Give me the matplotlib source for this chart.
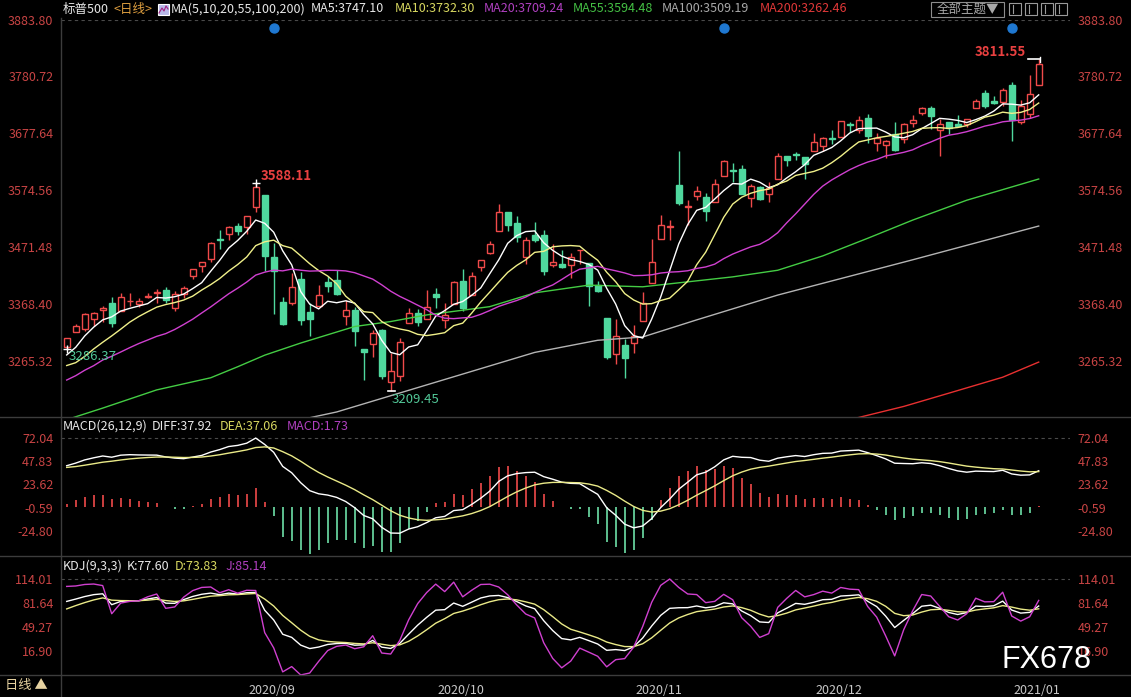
import matplotlib
matplotlib.use('Agg')
import matplotlib.pyplot as plt
from matplotlib.lines import Line2D
from matplotlib.patches import Rectangle
import numpy as np
import pandas as pd

plt.rcParams['font.family'] = ['Noto Sans CJK SC', 'DejaVu Sans']

# ---- data: S&P 500 daily bars, 2020-08-04 .. 2021-01-07 ----
dates = """
2020-08-04 2020-08-05 2020-08-06 2020-08-07 2020-08-10 2020-08-11 2020-08-12 2020-08-13 2020-08-14 2020-08-17
2020-08-18 2020-08-19 2020-08-20 2020-08-21 2020-08-24 2020-08-25 2020-08-26 2020-08-27 2020-08-28 2020-08-31
2020-09-01 2020-09-02 2020-09-03 2020-09-04 2020-09-08 2020-09-09 2020-09-10 2020-09-11 2020-09-14 2020-09-15
2020-09-16 2020-09-17 2020-09-18 2020-09-21 2020-09-22 2020-09-23 2020-09-24 2020-09-25 2020-09-28 2020-09-29
2020-09-30 2020-10-01 2020-10-02 2020-10-05 2020-10-06 2020-10-07 2020-10-08 2020-10-09 2020-10-12 2020-10-13
2020-10-14 2020-10-15 2020-10-16 2020-10-19 2020-10-20 2020-10-21 2020-10-22 2020-10-23 2020-10-26 2020-10-27
2020-10-28 2020-10-29 2020-10-30 2020-11-02 2020-11-03 2020-11-04 2020-11-05 2020-11-06 2020-11-09 2020-11-10
2020-11-11 2020-11-12 2020-11-13 2020-11-16 2020-11-17 2020-11-18 2020-11-19 2020-11-20 2020-11-23 2020-11-24
2020-11-25 2020-11-27 2020-11-30 2020-12-01 2020-12-02 2020-12-03 2020-12-04 2020-12-07 2020-12-08 2020-12-09
2020-12-10 2020-12-11 2020-12-14 2020-12-15 2020-12-16 2020-12-17 2020-12-18 2020-12-21 2020-12-22 2020-12-23
2020-12-24 2020-12-28 2020-12-29 2020-12-30 2020-12-31 2021-01-04 2021-01-05 2021-01-06 2021-01-07
""".split()

open_ = [3289.92, 3317.37, 3323.17, 3340.05, 3356.04, 3370.34, 3355.46, 3372.95, 3368.66, 3380.86,
         3387.04, 3392.51, 3360.48, 3386.01, 3418.09, 3435.95, 3449.97, 3485.14, 3494.69, 3509.73,
         3507.44, 3543.76, 3564.74, 3453.60, 3371.88, 3369.82, 3412.56, 3352.70, 3363.56, 3407.73,
         3411.23, 3346.86, 3357.38, 3285.57, 3295.75, 3320.11, 3226.14, 3236.66, 3333.90, 3350.92,
         3341.21, 3385.87, 3338.94, 3367.27, 3408.74, 3384.56, 3434.28, 3459.67, 3500.02, 3534.01,
         3515.47, 3453.72, 3493.50, 3493.66, 3439.38, 3439.91, 3438.50, 3464.90, 3441.42, 3403.15,
         3342.48, 3277.17, 3293.59, 3296.20, 3336.25, 3406.46, 3485.74, 3508.34, 3583.04, 3543.26,
         3563.22, 3562.67, 3552.57, 3600.16, 3610.31, 3612.09, 3559.41, 3579.31, 3566.82, 3594.52,
         3635.50, 3638.55, 3634.18, 3645.87, 3653.78, 3668.28, 3670.94, 3694.73, 3683.05, 3705.98,
         3659.13, 3656.08, 3675.27, 3666.41, 3696.25, 3713.65, 3722.39, 3684.28, 3698.08, 3693.42,
         3694.03, 3723.03, 3750.01, 3736.19, 3733.27, 3764.61, 3698.02, 3712.20, 3764.71]
high = [3306.84, 3330.77, 3351.03, 3352.54, 3363.29, 3381.01, 3387.89, 3387.24, 3378.51, 3387.59,
        3395.06, 3399.54, 3390.80, 3399.96, 3432.09, 3444.21, 3481.07, 3501.38, 3509.23, 3514.77,
        3528.03, 3588.11, 3564.85, 3479.15, 3379.97, 3424.77, 3425.55, 3368.95, 3402.93, 3419.48,
        3428.92, 3375.17, 3362.27, 3285.57, 3320.31, 3323.35, 3278.70, 3306.88, 3360.74, 3357.92,
        3393.56, 3397.18, 3369.10, 3409.57, 3431.56, 3426.26, 3447.28, 3482.34, 3549.85, 3534.01,
        3527.94, 3489.08, 3515.76, 3502.42, 3476.93, 3464.86, 3460.53, 3466.46, 3441.42, 3409.51,
        3342.48, 3341.05, 3304.93, 3330.14, 3389.49, 3486.25, 3529.05, 3520.76, 3645.99, 3557.22,
        3581.16, 3569.02, 3593.66, 3628.51, 3623.11, 3619.09, 3585.22, 3581.23, 3589.81, 3642.31,
        3635.50, 3644.31, 3634.18, 3678.45, 3670.96, 3682.73, 3699.20, 3697.41, 3708.45, 3712.39,
        3678.49, 3665.91, 3697.61, 3695.29, 3711.27, 3725.12, 3726.70, 3702.90, 3698.26, 3711.24,
        3703.82, 3740.51, 3756.12, 3744.63, 3760.20, 3769.99, 3737.83, 3783.04, 3811.55]
low = [3286.37, 3317.37, 3318.14, 3328.72, 3335.44, 3326.44, 3355.46, 3363.35, 3361.64, 3379.22,
       3370.15, 3369.66, 3354.69, 3379.31, 3413.13, 3425.84, 3444.15, 3468.35, 3484.32, 3493.25,
       3494.60, 3535.23, 3427.41, 3349.63, 3329.27, 3366.84, 3329.25, 3310.47, 3363.56, 3389.25,
       3384.45, 3328.82, 3292.40, 3229.10, 3270.95, 3232.57, 3209.45, 3228.44, 3332.91, 3327.54,
       3340.47, 3361.39, 3323.69, 3367.27, 3354.54, 3384.56, 3428.15, 3458.07, 3499.61, 3500.86,
       3480.55, 3440.89, 3480.45, 3419.93, 3435.65, 3433.06, 3415.34, 3440.45, 3364.86, 3388.71,
       3268.89, 3259.82, 3233.94, 3279.74, 3336.25, 3405.17, 3485.74, 3484.34, 3547.48, 3511.91,
       3557.00, 3518.58, 3552.57, 3600.16, 3588.68, 3567.33, 3543.84, 3556.85, 3552.77, 3594.52,
       3617.76, 3629.33, 3594.39, 3645.87, 3644.84, 3657.17, 3670.94, 3678.88, 3678.83, 3660.54,
       3645.18, 3633.40, 3645.84, 3659.62, 3688.57, 3710.87, 3685.84, 3636.48, 3676.16, 3689.28,
       3689.32, 3723.03, 3723.31, 3730.21, 3726.88, 3662.71, 3695.07, 3705.34, 3764.71]
close = [3306.51, 3327.77, 3349.16, 3351.28, 3360.47, 3333.69, 3380.35, 3373.43, 3372.85, 3381.99,
         3389.78, 3374.85, 3385.51, 3397.16, 3431.28, 3443.62, 3478.73, 3484.55, 3508.01, 3500.31,
         3526.65, 3580.84, 3455.06, 3426.96, 3331.84, 3398.96, 3339.19, 3340.97, 3383.54, 3401.20,
         3385.49, 3357.01, 3319.47, 3281.06, 3315.57, 3236.92, 3246.59, 3298.46, 3351.60, 3335.47,
         3363.00, 3380.80, 3348.42, 3408.60, 3360.97, 3419.44, 3446.83, 3477.14, 3534.22, 3511.93,
         3488.67, 3483.34, 3483.81, 3426.92, 3443.12, 3435.56, 3453.49, 3465.39, 3400.97, 3390.68,
         3271.03, 3310.11, 3269.96, 3310.24, 3369.16, 3443.44, 3510.45, 3509.44, 3550.50, 3545.53,
         3572.66, 3537.01, 3585.15, 3626.91, 3609.53, 3567.79, 3581.87, 3557.54, 3577.59, 3635.41,
         3629.65, 3638.35, 3621.63, 3662.45, 3669.01, 3666.72, 3699.12, 3691.96, 3702.25, 3672.82,
         3668.10, 3663.46, 3647.49, 3694.62, 3701.17, 3722.48, 3709.41, 3694.92, 3687.26, 3690.01,
         3703.06, 3735.36, 3727.04, 3732.04, 3756.07, 3700.65, 3726.86, 3748.14, 3803.79]

# closes before the visible window (May-Aug 3 2020), used only to warm up MA / MACD
warmup_close = [2830.71, 2842.74, 2868.44, 2848.42, 2881.19, 2929.80, 2930.19, 2870.12, 2820.00, 2852.50,
                2863.70, 2953.91, 2922.94, 2971.61, 2948.51, 2955.45, 2991.77, 3036.13, 3029.73, 3044.31,
                3055.73, 3080.82, 3122.87, 3112.35, 3193.93, 3232.39, 3207.18, 3190.14, 3002.10, 3041.31,
                3066.59, 3124.74, 3113.49, 3115.34, 3097.74, 3117.86, 3131.29, 3050.33, 3083.76, 3009.05,
                3053.24, 3100.29, 3115.86, 3130.01, 3179.72, 3145.32, 3169.94, 3152.05, 3185.04, 3155.22,
                3197.52, 3226.56, 3215.57, 3224.73, 3251.84, 3257.30, 3276.02, 3235.66, 3215.63, 3239.41,
                3218.44, 3258.44, 3246.22, 3271.12, 3294.61]

# long moving averages (bar index -> value)
ma55_idx = [0, 4, 10, 16, 19, 22, 26, 32, 36, 40, 47, 52, 58, 64, 69, 74, 79, 84, 89, 94, 100, 108]
ma55_val = [3158, 3179, 3212, 3234, 3254, 3275, 3297, 3327, 3336, 3348, 3363, 3388, 3402, 3399, 3408,
            3417, 3429, 3455, 3487, 3520, 3556, 3594.48]
ma100_idx = [20, 30, 41, 52, 59, 64, 70, 79, 94, 108]
ma100_val = [3137, 3172, 3226, 3280, 3302, 3308, 3339, 3384, 3448, 3509.19]
ma200_idx = [84, 88, 93, 98, 104, 108]
ma200_val = [3150, 3162, 3182, 3206, 3235, 3262.46]

kdj_seed = (83.8, 73.7)          # K, D on the first bar
event_idx = [23, 73, 105]        # blue event dots

price_ticks = [3883.80, 3780.72, 3677.64, 3574.56, 3471.48, 3368.40, 3265.32]
macd_ticks = [72.04, 47.83, 23.62, -0.59, -24.80]
kdj_ticks = [114.01, 81.64, 49.27, 16.90]

# ---- indicators ----
n = len(close)
o, h, l, c = (np.array(a) for a in (open_, high, low, close))
full = pd.Series(warmup_close + close)
ma5 = full.rolling(5).mean().to_numpy()[-n:]
ma10 = full.rolling(10).mean().to_numpy()[-n:]
ma20 = full.rolling(20).mean().to_numpy()[-n:]

ema12 = full.ewm(span=12, adjust=False).mean()
ema26 = full.ewm(span=26, adjust=False).mean()
diff_all = ema12 - ema26
dea_all = diff_all.ewm(span=9, adjust=False).mean()
diff = diff_all.to_numpy()[-n:]
dea = dea_all.to_numpy()[-n:]
macd = 2 * (diff - dea)

hh = pd.Series(h).rolling(9, min_periods=1).max().to_numpy()
ll = pd.Series(l).rolling(9, min_periods=1).min().to_numpy()
rsv = (c - ll) / (hh - ll) * 100
k = np.zeros(n)
d = np.zeros(n)
k[0], d[0] = kdj_seed
for i in range(1, n):
    k[i] = (2 * k[i - 1] + rsv[i]) / 3
    d[i] = (2 * d[i - 1] + k[i]) / 3
j = 3 * k - 2 * d

# ---- figure ----
W, H = 1131, 697
fig = plt.figure(figsize=(W / 100, H / 100), dpi=100, facecolor='black')


def box(x0, y0, x1, y1):
    return [x0 / W, 1 - y1 / H, (x1 - x0) / W, (y1 - y0) / H]


RED = '#f04a4a'
GREEN = '#4fd89e'
LABEL = '#c84444'
GRID = '#4a4a4a'

ax = fig.add_axes(box(61, 19.5, 1070, 417))
ax_m = fig.add_axes(box(61, 417, 1070, 556), sharex=ax)
ax_k = fig.add_axes(box(61, 556, 1070, 675), sharex=ax)

x = np.arange(n)
xl = ((61 - 66.7) / 9, (1070 - 66.7) / 9)

for a in (ax, ax_m, ax_k):
    a.set_facecolor('black')
    for s in a.spines.values():
        s.set_visible(False)
    a.tick_params(axis='x', bottom=False, labelbottom=False)
    a.tick_params(axis='y', left=False, right=False, labelleft=True, labelright=True,
                  labelsize=9, labelcolor=LABEL, pad=2)
    a.set_xlim(*xl)

# price panel
px = 1.8137
ax.set_ylim(3883.80 - (417 - 19.5) * px, 3883.80)
ax.set_yticks(price_ticks)
ax.set_yticklabels([f'{v:.2f}' for v in price_ticks])
ax.axhline(3883.80, color=GRID, lw=0.8, ls=(0, (3, 3)))

up = c >= o
lo_b = np.minimum(o, c)
hgt = np.maximum(np.abs(c - o), 1.2)
ax.vlines(x[up], l[up], h[up], color=RED, lw=1, zorder=2)
ax.vlines(x[~up], l[~up], h[~up], color=GREEN, lw=1, zorder=2)
ax.bar(x[up], hgt[up], bottom=lo_b[up], width=0.7, facecolor='black', edgecolor=RED, linewidth=1, zorder=3)
ax.bar(x[~up], hgt[~up], bottom=lo_b[~up], width=0.7, facecolor=GREEN, edgecolor=GREEN, linewidth=1, zorder=3)

ax.plot(x, ma5, color='#ffffff', lw=1, zorder=5)
ax.plot(x, ma10, color='#f0f08a', lw=1, zorder=5)
ax.plot(x, ma20, color='#d040d0', lw=1, zorder=5)
ax.plot(ma55_idx, ma55_val, color='#44cc44', lw=1, zorder=4)
ax.plot(ma100_idx, ma100_val, color='#b4b4b4', lw=1, zorder=4)
ax.plot(ma200_idx, ma200_val, color='#e83030', lw=1, zorder=4)

ax.plot(event_idx, [3883.80 - 8.5 * px] * len(event_idx), 'o', color='#1f78d1', ms=6.5, zorder=6)

# extreme labels
i_hi = int(np.argmax(h[:40]))
ax.plot(i_hi, h[i_hi], marker='+', color='white', ms=6, mew=1, zorder=6)
ax.text(i_hi + 0.55, h[i_hi] + 6.5 * px, f'{h[i_hi]:.2f}', color='#e84040', fontsize=9.5,
        fontweight='bold', va='center', ha='left', zorder=6)
ax.plot(0, l[0], marker='+', color='white', ms=6, mew=1, zorder=6)
ax.text(0.2, l[0] - 8 * px, f'{l[0]:.2f}', color='#52c898', fontsize=9.5,
        va='center', ha='left', zorder=6)
i_lo = int(np.argmin(l))
ax.plot([i_lo - 0.3, i_lo + 0.5], [l[i_lo]] * 2, color='white', lw=1.2, zorder=6)
ax.text(i_lo + 0.1, l[i_lo] - 8.5 * px, f'{l[i_lo]:.2f}', color='#52c898', fontsize=9.5,
        va='center', ha='left', zorder=6)
i_top = n - 1
ax.plot([i_top - 1.2, i_top + 0.1], [h[i_top]] * 2, color='white', lw=1.2, zorder=6)
ax.plot([i_top + 0.1] * 2, [h[i_top] - 2.5 * px, h[i_top] + 2.5 * px], color='white', lw=1, zorder=6)
ax.text(i_top - 1.4, h[i_top] + 7 * px, f'{h[i_top]:.2f}', color='#e84040', fontsize=9.5,
        fontweight='bold', va='center', ha='right', zorder=6)

# MACD panel
mp = 1.0413
ax_m.set_ylim(72.04 - (556 - 438) * mp, 72.04 + (438 - 417) * mp)
ax_m.set_yticks(macd_ticks)
ax_m.set_yticklabels([f'{v:.2f}' for v in macd_ticks])
ax_m.axhline(72.04, color=GRID, lw=0.8, ls=(0, (3, 3)))
pos = macd >= 0
ax_m.vlines(x[pos], 0, macd[pos], color=RED, lw=1.2)
ax_m.vlines(x[~pos], 0, macd[~pos], color='#6ee0a8', lw=1.2)
ax_m.plot(x, diff, color='white', lw=1)
ax_m.plot(x, dea, color='#eaea88', lw=1)

# KDJ panel
kp = 1.3488
ax_k.set_ylim(114.01 - (675 - 579) * kp, 114.01 + (579 - 556) * kp)
ax_k.set_yticks(kdj_ticks)
ax_k.set_yticklabels([f'{v:.2f}' for v in kdj_ticks])
ax_k.axhline(114.01, color=GRID, lw=0.8, ls=(0, (3, 3)))
ax_k.plot(x, k, color='white', lw=1)
ax_k.plot(x, d, color='#eaea88', lw=1)
ax_k.plot(x, j, color='#d040d0', lw=1)

# month labels under the KDJ panel
month_first = [i for i in range(n) if i == 0 or dates[i][:7] != dates[i - 1][:7]][1:]
for i in month_first:
    ax_k.annotate(dates[i][:7].replace('-', '/'), xy=(i, 0), xycoords=('data', 'axes fraction'),
                  xytext=(1, -11), textcoords='offset points', ha='left', va='center',
                  color='#c8c8c8', fontsize=9, annotation_clip=False)

# frame lines
for yy in (417, 556, 675):
    fig.add_artist(Line2D([0, 1], [1 - yy / H] * 2, color='#3c3c3c', lw=1))
fig.add_artist(Line2D([61 / W] * 2, [0, 1 - 18 / H], color='#3c3c3c', lw=1))

renderer = fig.canvas.get_renderer()


def header(yp, items, size=9):
    # items: (left x in px, text, colour); never let a text run into the previous one
    right = 0
    for xp, s, col in items:
        xp = max(xp, right + 4)
        t = fig.text(xp / W, 1 - yp / H, s, color=col, fontsize=size, va='center', ha='left')
        bb = t.get_window_extent(renderer)
        right = bb.x1


header(9, [(63, '标普500', '#e8e8e8'), (109, '<日线>', '#e0a040')])
fig.add_artist(Rectangle((158 / W, 1 - 15 / H), 11 / W, 11 / H, transform=fig.transFigure,
                         facecolor='#b8b8e8', edgecolor='white', lw=0.8))
fig.add_artist(Line2D(np.array([159, 162, 164, 166, 168]) / W, 1 - np.array([13, 8, 11, 6, 9]) / H,
                      color='#a02080', lw=0.8))
header(9, [(171, 'MA(5,10,20,55,100,200)', '#e8e8e8'),
           (311, 'MA5:3747.10', '#e8e8e8'),
           (395, 'MA10:3732.30', '#d8d860'),
           (484, 'MA20:3709.24', '#b040c0'),
           (573, 'MA55:3594.48', '#44c044'),
           (662, 'MA100:3509.19', '#a8a8a8'),
           (760, 'MA200:3262.46', '#e03838')])
fig.add_artist(Rectangle((931 / W, 1 - 17 / H), 73 / W, 15 / H, transform=fig.transFigure,
                         facecolor='none', edgecolor='#8c8c8c', lw=0.8))
header(9, [(937, '全部主题▼', '#a8a8a8')])
for xi in (1009, 1025, 1041, 1055):
    fig.add_artist(Rectangle((xi / W, 1 - 15 / H), 12 / W, 12 / H, transform=fig.transFigure,
                             facecolor='none', edgecolor='#9a9a9a', lw=0.8))
    fig.add_artist(Line2D([(xi + 4) / W] * 2, [1 - 13 / H, 1 - 5 / H], color='#9a9a9a', lw=0.8))

header(426, [(63, 'MACD(26,12,9)', '#e8e8e8'),
             (148, 'DIFF:37.92', '#e8e8e8'),
             (220, 'DEA:37.06', '#d8d860'),
             (287, 'MACD:1.73', '#b040c0')])
header(566, [(63, 'KDJ(9,3,3)', '#e8e8e8'),
             (125, 'K:77.60', '#e8e8e8'),
             (175, 'D:73.83', '#d8d860'),
             (226, 'J:85.14', '#b040c0')])

fig.text(5 / W, 1 - 686 / H, '日线 ▲', color='#e6d2a0', fontsize=9.5, va='center', ha='left')

fig.text(1002 / W, 1 - 660 / H, 'FX678', color='white', fontsize=22,
         family='Liberation Sans', va='center', ha='left', zorder=10)

fig.savefig('out.png', dpi=100, facecolor='black')
